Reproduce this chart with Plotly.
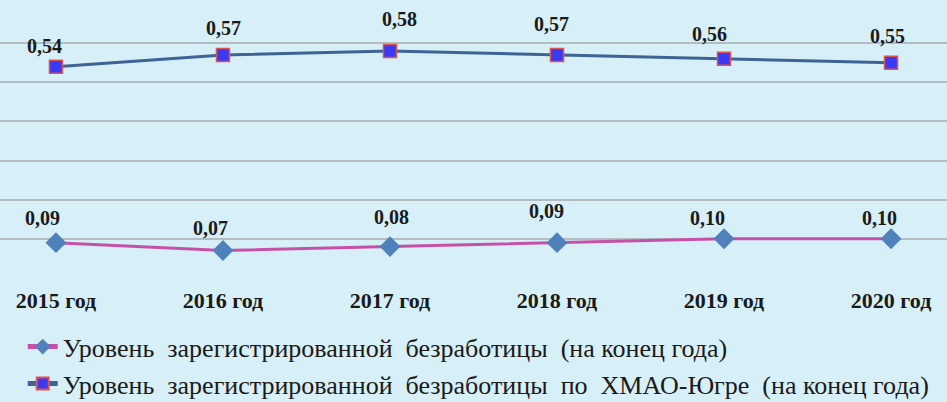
import plotly.graph_objects as go

years = ["2015 год", "2016 год", "2017 год", "2018 год", "2019 год", "2020 год"]
rate_rf = [0.09, 0.07, 0.08, 0.09, 0.10, 0.10]
rate_hmao = [0.54, 0.57, 0.58, 0.57, 0.56, 0.55]
name_rf = "Уровень  зарегистрированной  безработицы  (на конец года)"
name_hmao = "Уровень  зарегистрированной  безработицы  по  ХМАО-Югре  (на конец года)"

# label offsets in pixels (style only)
dx_rf = [-13, -12, 2, -11, -17, -12]
dy_rf = [25, 23, 30, 32, 21, 21]
dx_hmao = [-11, 1, 10, -6, -15, -4]
dy_hmao = [21, 27, 32, 31, 25, 27]

BG = "#d7eff6"
fig = go.Figure()
fig.add_trace(go.Scatter(
    x=years, y=rate_rf, name=name_rf, mode="lines+markers",
    line=dict(color="#c552a8", width=3),
    marker=dict(symbol="diamond", size=16, color="#4f81bd", line=dict(width=0)),
))
fig.add_trace(go.Scatter(
    x=years, y=rate_hmao, name=name_hmao, mode="lines+markers",
    line=dict(color="#3d6496", width=3),
    marker=dict(symbol="square", size=13, color="#3a3af2", line=dict(color="#e0524f", width=1.5)),
))

def fmt(v):
    return f"{v:.2f}".replace(".", ",")

for vals, dxs, dys in [(rate_rf, dx_rf, dy_rf), (rate_hmao, dx_hmao, dy_hmao)]:
    for xv, yv, dx, dy in zip(years, vals, dxs, dys):
        fig.add_annotation(x=xv, y=yv, text=f"<b>{fmt(yv)}</b>", showarrow=False,
                           xshift=dx, yshift=dy,
                           font=dict(family="Liberation Serif", size=20, color="#1a1a1a"))

fig.update_layout(
    width=947, height=402,
    margin=dict(l=0, r=0, t=4, b=124, autoexpand=False),
    paper_bgcolor=BG, plot_bgcolor=BG,
    showlegend=True,
    legend=dict(orientation="v", x=0.024, xanchor="left", y=-0.165, yanchor="top",
                font=dict(family="Liberation Serif", size=26, color="#1a1a1a"),
                bgcolor="rgba(0,0,0,0)", tracegroupgap=0, traceorder="normal",
                itemsizing="constant", itemwidth=30),
    font=dict(family="Liberation Serif", color="#1a1a1a"),
)
fig.update_xaxes(
    type="category", range=[-0.335, 5.335], showgrid=False, zeroline=False,
    showline=False, ticks="", ticklabelstandoff=7,
    tickfont=dict(family="Liberation Serif", size=22, color="#1a1a1a"),
    tickprefix="<b>", ticksuffix="</b>",
)
fig.update_yaxes(
    range=[-0.0003, 0.7003], tick0=0, dtick=0.1, showgrid=True, gridcolor="#b3bcc0", gridwidth=2,
    showticklabels=False, zeroline=False, showline=False, ticks="",
)
fig.write_html("out.html", config={"displayModeBar": False},
               post_script="document.body.style.margin='0';document.body.style.overflow='hidden';")
